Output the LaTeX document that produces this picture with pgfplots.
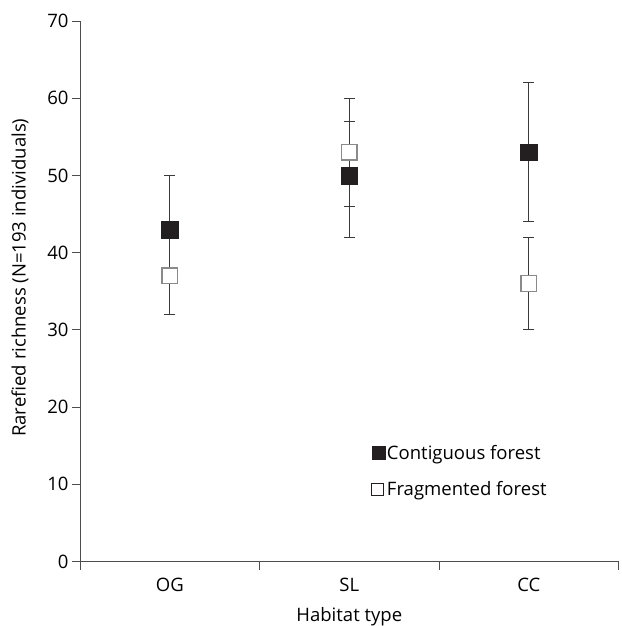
\documentclass[border=0pt]{standalone}
\usepackage{fontspec}
\setmainfont{Open Sans}
\usepackage{pgfplots}
\pgfplotsset{compat=1.18}
\definecolor{axisgray}{HTML}{4D4D4D}
\definecolor{errgray}{HTML}{3A3A3A}
\definecolor{fillblack}{HTML}{231F20}
\definecolor{opengray}{HTML}{8A8A8A}
\begin{document}
\begin{tikzpicture}
\begin{axis}[
    name=ax,
    scale only axis,
    width=538pt, height=540pt,
    xmin=0, xmax=3, ymin=0, ymax=70,
    axis x line*=bottom, axis y line*=left,
    axis line style={axisgray, line width=1pt},
    tick align=outside,
    major tick length=8pt,
    tick style={axisgray, line width=1pt},
    xtick={0,1,2,3}, xticklabels={},
    extra x ticks={0.5,1.5,2.5},
    extra x tick labels={OG,SL,CC},
    extra x tick style={major tick length=0pt,
        xticklabel style={anchor=base, yshift=-30pt}},
    ytick={0,10,...,70},
    yticklabel style={anchor=east, xshift=0pt},
    font=\fontsize{18.5}{22}\selectfont,
    /pgf/number format/assume math mode=true,
    xlabel={Habitat type},
    ylabel={Rarefied richness (N=193 individuals)},
    xlabel style={at={(axis description cs:0.5,0)}, anchor=base, inner sep=0pt, yshift=-60pt},
    ylabel style={at={(axis description cs:-0.1115,0.525)}, anchor=center},
    legend style={draw=none, fill=none, at={(0.535,0.222)}, anchor=north west,
        row sep=16pt, /tikz/every even column/.append style={column sep=0pt}},
    legend cell align=left,
]
% Contiguous forest
\addplot[only marks, mark=square*, mark size=8.3pt,
    mark options={fill=fillblack, draw=fillblack},
    legend image code/.code={\fill[fillblack] (-0.05cm,-6pt) rectangle ++(13pt,13pt);},
    error bars/.cd, y dir=both, y explicit,
    error bar style={errgray, line width=1.2pt},
    error mark options={rotate=90, errgray, line width=1.2pt, mark size=5.5pt}]
coordinates {
    (0.5,43) +- (0,7)
    (1.5,50) += (0,7) -= (0,8)
    (2.5,53) +- (0,9)
};
\addlegendentry{Contiguous forest}
% Fragmented forest
\addplot[only marks, mark=square*, mark size=7.8pt,
    mark options={fill=white, draw=opengray, line width=1.5pt},
    legend image code/.code={\draw[fillblack, line width=0.8pt, fill=white] (-0.05cm,-6pt) rectangle ++(12pt,12pt);},
    error bars/.cd, y dir=both, y explicit,
    error bar style={errgray, line width=1.2pt},
    error mark options={rotate=90, errgray, line width=1.2pt, mark size=5.5pt}]
coordinates {
    (0.5,37) +- (0,5)
    (1.5,53) +- (0,7)
    (2.5,36) +- (0,6)
};
\addlegendentry{Fragmented forest}
\end{axis}
\path (ax.north west) ++(-80pt,21pt);
\end{tikzpicture}
\end{document}
